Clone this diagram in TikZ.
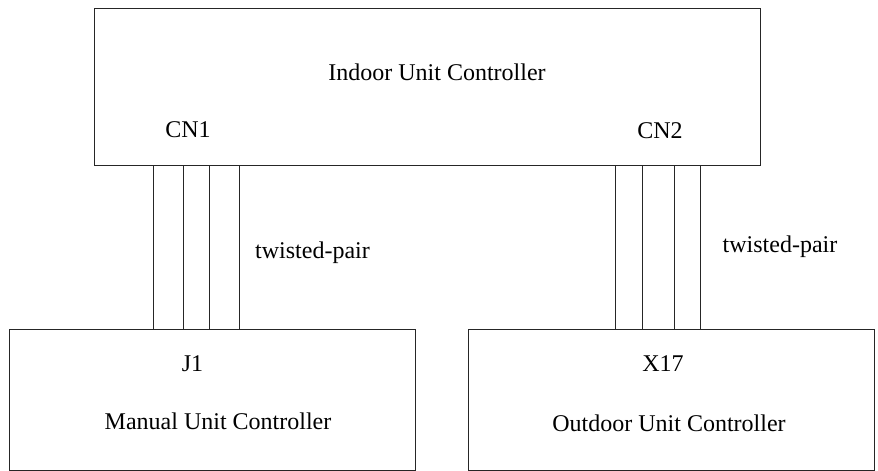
\documentclass[tikz,border=0pt]{standalone}
\usepackage{fontspec}
\setmainfont{Liberation Serif}
\begin{document}
\begin{tikzpicture}[x=0.75pt,y=-0.75pt,
  unitbox/.style={draw=black!85,line width=0.75pt,inner sep=0pt,outer sep=0pt,rectangle},
  lbl/.style={inner sep=0pt,anchor=base,font=\fontsize{18}{21.6}\selectfont},
  wire/.style={draw=black!85,line width=0.75pt}]
\useasboundingbox (0,0) rectangle (878,471);
\node[unitbox,minimum width=499.5pt,minimum height=117.75pt] (indoor) at (427,86.5) {};
\node[unitbox,minimum width=304.5pt,minimum height=105.75pt] (manual) at (212,399.5) {};
\node[unitbox,minimum width=304.5pt,minimum height=105.75pt] (outdoor) at (671,399.5) {};
\node[lbl] (t1) at (437,80) {Indoor Unit Controller};
\node[lbl] (cn1) at (188,137) {CN1};
\node[lbl] (cn2) at (660,138) {CN2};
\node[lbl] (tp1) at (312.5,258) {twisted-pair};
\node[lbl] (tp2) at (780,252.7) {twisted-pair};
\node[lbl] (j1) at (192.5,371) {J1};
\node[lbl] (t2) at (218,429) {Manual Unit Controller};
\node[lbl] (x17) at (663,371.7) {X17};
\node[lbl] (t3) at (669,431.7) {Outdoor Unit Controller};
\foreach \x in {153,183,209,239}
  \draw[wire] (indoor.south -| \x,0) -- (manual.north -| \x,0);
\foreach \x in {615,642,674,700}
  \draw[wire] (indoor.south -| \x,0) -- (outdoor.north -| \x,0);
\end{tikzpicture}
\end{document}
